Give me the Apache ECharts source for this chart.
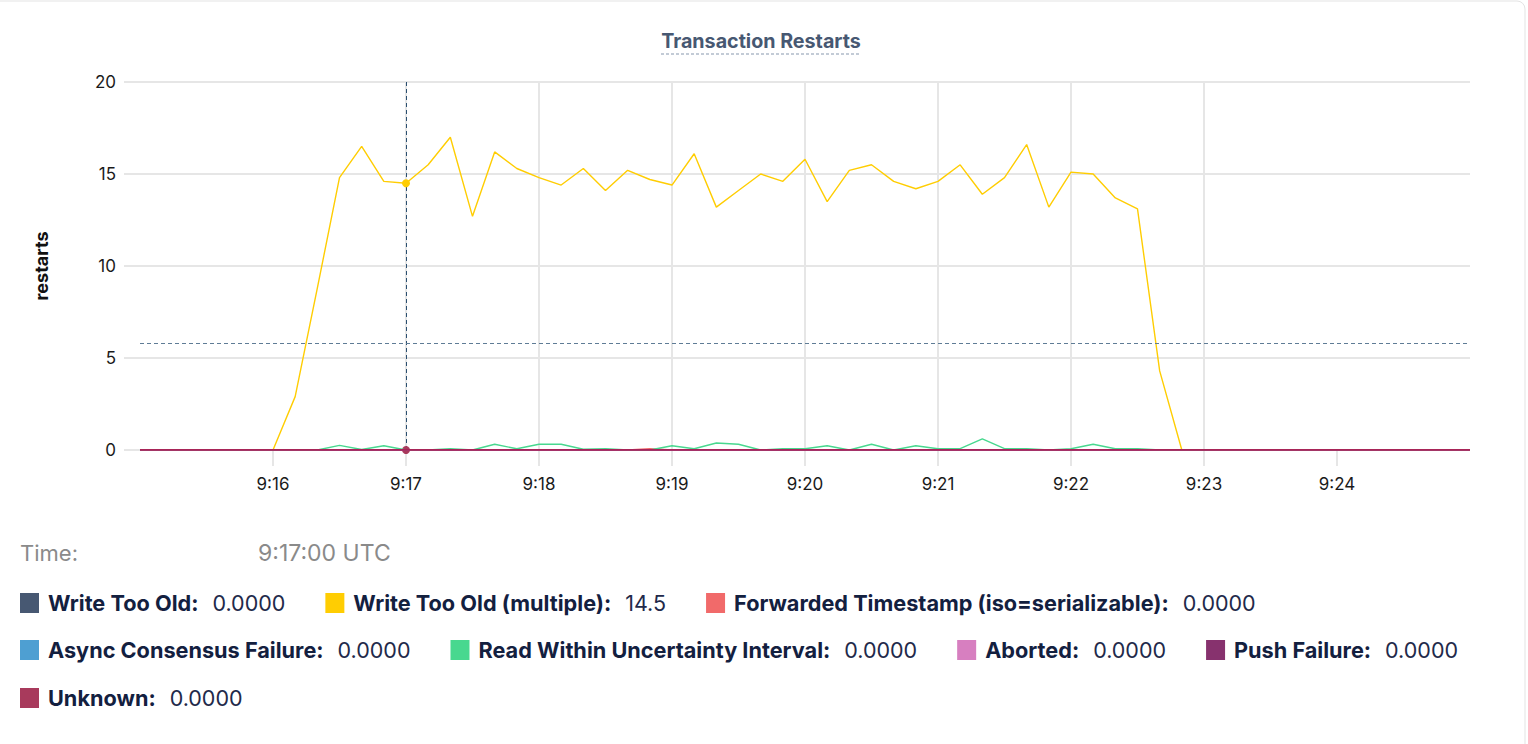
<!DOCTYPE html>
<html>
<head>
<meta charset="utf-8">
<script src="https://cdn.jsdelivr.net/npm/echarts@6/dist/echarts.min.js"></script>
<style>
  html, body { margin: 0; padding: 0; background: #ffffff; }
  #chart { width: 1528px; height: 744px; }
</style>
</head>
<body>
<div id="chart"></div>
<script>
// ---- Data ----
const chartTitle = 'Transaction Restarts';
const yAxisName = 'restarts';
const startTime = '9:15:00';       // first sample (UTC)
const endTime = '9:25:00';         // last sample (UTC)
const sampleStepSec = 10;          // sampling interval
const xTickLabels = ['9:16', '9:17', '9:18', '9:19', '9:20', '9:21', '9:22', '9:23', '9:24'];
const yTickValues = [0, 5, 10, 15, 20];

const seriesNames = [
  'Write Too Old',
  'Write Too Old (multiple)',
  'Forwarded Timestamp (iso=serializable)',
  'Async Consensus Failure',
  'Read Within Uncertainty Interval',
  'Aborted',
  'Push Failure',
  'Unknown'
];
const seriesColors = ['#475872', '#ffcd02', '#f16a6a', '#4e9fd2', '#48d88f', '#d77fc0', '#87326e', '#a83a5c'];
const lineColors   = ['#475872', '#ffcd02', '#f16a6a', '#4e9fd2', '#48d88f', '#d77fc0', '#87326e', '#b0184c'];

const writeTooOld = [0,0,0,0,0,0,0,0,0,0, 0,0,0,0,0,0,0,0,0,0, 0,0,0,0,0,0,0,0,0,0, 0,0,0,0,0,0,0,0,0,0, 0,0,0,0,0,0,0,0,0,0, 0,0,0,0,0,0,0,0,0,0, 0];
const writeTooOldMultiple = [
  0, 0, 0, 0, 0, 0, 0, 2.9, 8.8, 14.8,
  16.5, 14.6, 14.5, 15.5, 17.0, 12.7, 16.2, 15.3, 14.8, 14.4,
  15.3, 14.1, 15.2, 14.7, 14.4, 16.1, 13.2, 14.1, 15.0, 14.6,
  15.8, 13.5, 15.2, 15.5, 14.6, 14.2, 14.6, 15.5, 13.9, 14.8,
  16.6, 13.2, 15.1, 15.0, 13.7, 13.1, 4.3, 0, 0, 0,
  0, 0, 0, 0, 0, 0, 0, 0, 0, 0, 0
];
const forwardedTimestamp = [0,0,0,0,0,0,0,0,0,0, 0,0,0,0,0,0,0,0,0,0, 0,0,0,0.07,0,0,0,0,0,0, 0,0,0,0,0,0,0,0,0,0, 0,0,0,0,0,0,0,0,0,0, 0,0,0,0,0,0,0,0,0,0, 0];
const asyncConsensusFailure = [0,0,0,0,0,0,0,0,0,0, 0,0,0,0,0,0,0,0,0,0, 0,0,0,0,0,0,0,0,0,0, 0,0,0,0,0,0,0,0,0,0, 0,0,0,0,0,0,0,0,0,0, 0,0,0,0,0,0,0,0,0,0, 0];
const readWithinUncertainty = [
  0, 0, 0, 0, 0, 0, 0, 0, 0, 0.25,
  0.03, 0.23, 0, 0, 0.07, 0, 0.31, 0.07, 0.31, 0.31,
  0.04, 0.07, 0, 0, 0.23, 0.07, 0.38, 0.31, 0, 0.07,
  0.07, 0.23, 0, 0.31, 0, 0.23, 0.07, 0.07, 0.6, 0.07,
  0.07, 0, 0.07, 0.31, 0.07, 0.07, 0, 0, 0, 0,
  0, 0, 0, 0, 0, 0, 0, 0, 0, 0, 0
];
const aborted = [0,0,0,0,0,0,0,0,0,0, 0,0,0,0,0,0,0,0,0,0, 0,0,0,0,0,0,0,0,0,0, 0,0,0,0,0,0,0,0,0,0, 0,0,0,0,0,0,0,0,0,0, 0,0,0,0,0,0,0,0,0,0, 0];
const pushFailure = [0,0,0,0,0,0,0,0,0,0, 0,0,0,0,0,0,0,0,0,0, 0,0,0,0,0,0,0,0,0,0, 0,0,0,0,0,0,0,0,0,0, 0,0,0,0,0,0,0,0,0,0, 0,0,0,0,0,0,0,0,0,0, 0];
const unknown = [0,0,0,0,0,0,0,0,0,0, 0,0,0,0,0,0,0,0,0,0, 0,0,0,0,0,0,0,0,0,0, 0,0,0,0,0,0,0,0,0,0, 0,0,0,0,0,0,0,0,0,0, 0,0,0,0,0,0,0,0,0,0, 0];

// hovered sample (crosshair) and cursor height
const hoverTime = '9:17:00';
const cursorY = 5.8;

// ---- Build ----
function parseClock(s) {
  const p = s.split(':').map(Number);
  return Date.UTC(2020, 0, 1, p[0], p[1], p[2] || 0);
}
function fmtClock(t, withSec) {
  const d = new Date(t);
  const m = String(d.getUTCMinutes()).padStart(2, '0');
  let s = d.getUTCHours() + ':' + m;
  if (withSec) s += ':' + String(d.getUTCSeconds()).padStart(2, '0');
  return s;
}
const t0 = parseClock(startTime), t1 = parseClock(endTime);
const times = [];
for (let t = t0; t <= t1; t += sampleStepSec * 1000) times.push(t);
const seriesValues = [writeTooOld, writeTooOldMultiple, forwardedTimestamp, asyncConsensusFailure,
  readWithinUncertainty, aborted, pushFailure, unknown];
const hoverIdx = times.indexOf(parseClock(hoverTime));
const xTickValues = xTickLabels.map(parseClock);

function fmtVal(v) { return v === 0 ? v.toFixed(4) : String(v); }
const valueByName = {};
seriesNames.forEach((n, i) => { valueByName[n] = seriesValues[i][hoverIdx]; });

const FONT = 'Inter';
const gridColor = '#e6e6e6';

const series = seriesNames.map((name, i) => {
  const s = {
    name: name,
    type: 'line',
    data: times.map((t, k) => [t, seriesValues[i][k]]),
    showSymbol: false,
    symbol: 'none',
    silent: true,
    animation: false,
    lineStyle: { width: 1.4, color: lineColors[i] },
    itemStyle: { color: seriesColors[i] },
    z: 2 + i
  };
  if (i === 1 || i === 7) {
    s.markPoint = {
      silent: true, animation: false,
      symbol: 'circle', symbolSize: 8,
      itemStyle: { color: seriesColors[i] },
      label: { show: false },
      data: [{ coord: [times[hoverIdx], seriesValues[i][hoverIdx]] }]
    };
  }
  if (i === 7) {
    s.markLine = {
      silent: true, animation: false, symbol: 'none',
      label: { show: false },
      data: [
        { xAxis: times[hoverIdx], lineStyle: { color: '#2b4f70', type: [4, 3], width: 1 } },
        { yAxis: cursorY, lineStyle: { color: '#5f7c96', type: [4, 3], width: 1 } }
      ]
    };
  }
  return s;
});

const legendRows = [
  [0, 1, 2],
  [3, 4, 5, 6],
  [7]
];
const legendTops = [592, 639, 687];
const legends = legendRows.map((row, r) => ({
  show: true,
  orient: 'horizontal',
  left: 20,
  top: legendTops[r],
  padding: 0,
  itemGap: 40,
  itemWidth: 19,
  itemHeight: 20,
  icon: 'rect',
  selectedMode: false,
  data: row.map(i => seriesNames[i]),
  formatter: name => '{n|' + name + ':}{v|' + fmtVal(valueByName[name]) + '}',
  textStyle: {
    rich: {
      n: { fontFamily: FONT, fontSize: 21.7, fontWeight: 'bold', color: '#13203f', padding: [0, 0, 0, 4] },
      v: { fontFamily: FONT, fontSize: 21.5, color: '#22294a', padding: [0, 0, 0, 14] }
    }
  }
}));

const option = {
  backgroundColor: '#ffffff',
  animation: false,
  grid: { left: 140, right: 58, top: 82, bottom: 294, containLabel: false },
  xAxis: {
    type: 'value',
    min: t0,
    max: t1,
    interval: 60000,
    axisLine: { show: false },
    axisTick: { show: true, length: 16, lineStyle: { color: gridColor, width: 2 }, customValues: xTickValues },
    axisLabel: {
      customValues: xTickValues,
      margin: 25,
      color: '#1a1a1a',
      fontFamily: FONT,
      fontSize: 17,
      formatter: v => xTickLabels[xTickValues.indexOf(v)] || fmtClock(v, false)
    },
    splitLine: { show: true, showMinLine: false, showMaxLine: false, lineStyle: { color: gridColor, width: 2 } }
  },
  yAxis: {
    type: 'value',
    min: yTickValues[0],
    max: yTickValues[yTickValues.length - 1],
    interval: yTickValues[1] - yTickValues[0],
    name: yAxisName,
    nameLocation: 'middle',
    nameRotate: 90,
    nameGap: 90,
    nameTextStyle: { fontFamily: FONT, fontSize: 18, fontWeight: 'bold', color: '#111111' },
    axisLine: { show: false },
    axisTick: { show: true, length: 16, lineStyle: { color: gridColor, width: 2 } },
    axisLabel: { margin: 24, color: '#1a1a1a', fontFamily: FONT, fontSize: 17 },
    splitLine: { show: true, lineStyle: { color: gridColor, width: 2 } }
  },
  legend: legends,
  series: series,
  graphic: [
    {
      type: 'rect', silent: true, z: -10,
      shape: { x: -20, y: 1, width: 1545, height: 800, r: 8 },
      style: { fill: 'none', stroke: '#e3e3e3', lineWidth: 1 }
    },
    {
      type: 'text', silent: true,
      x: 761, y: 41,
      style: {
        text: chartTitle, fontFamily: FONT, fontSize: 19.7, fontWeight: 'bold',
        fill: '#475872', align: 'center', verticalAlign: 'middle'
      }
    },
    {
      type: 'line', silent: true,
      shape: { x1: 661, y1: 54, x2: 861, y2: 54 },
      style: { stroke: '#8797ad', lineWidth: 1.2, lineDash: [3, 2] }
    },
    {
      type: 'text', silent: true,
      x: 20, y: 553,
      style: { text: 'Time:', fontFamily: FONT, fontSize: 22, fill: '#8a8a8a', verticalAlign: 'middle' }
    },
    {
      type: 'text', silent: true,
      x: 258, y: 553,
      style: { text: fmtClock(times[hoverIdx], true) + ' UTC', fontFamily: FONT, fontSize: 23, fill: '#8a8a8a', verticalAlign: 'middle' }
    }
  ]
};

const chart = echarts.init(document.getElementById('chart'), null, { renderer: 'svg', width: 1528, height: 744 });
chart.setOption(option);
</script>
</body>
</html>
